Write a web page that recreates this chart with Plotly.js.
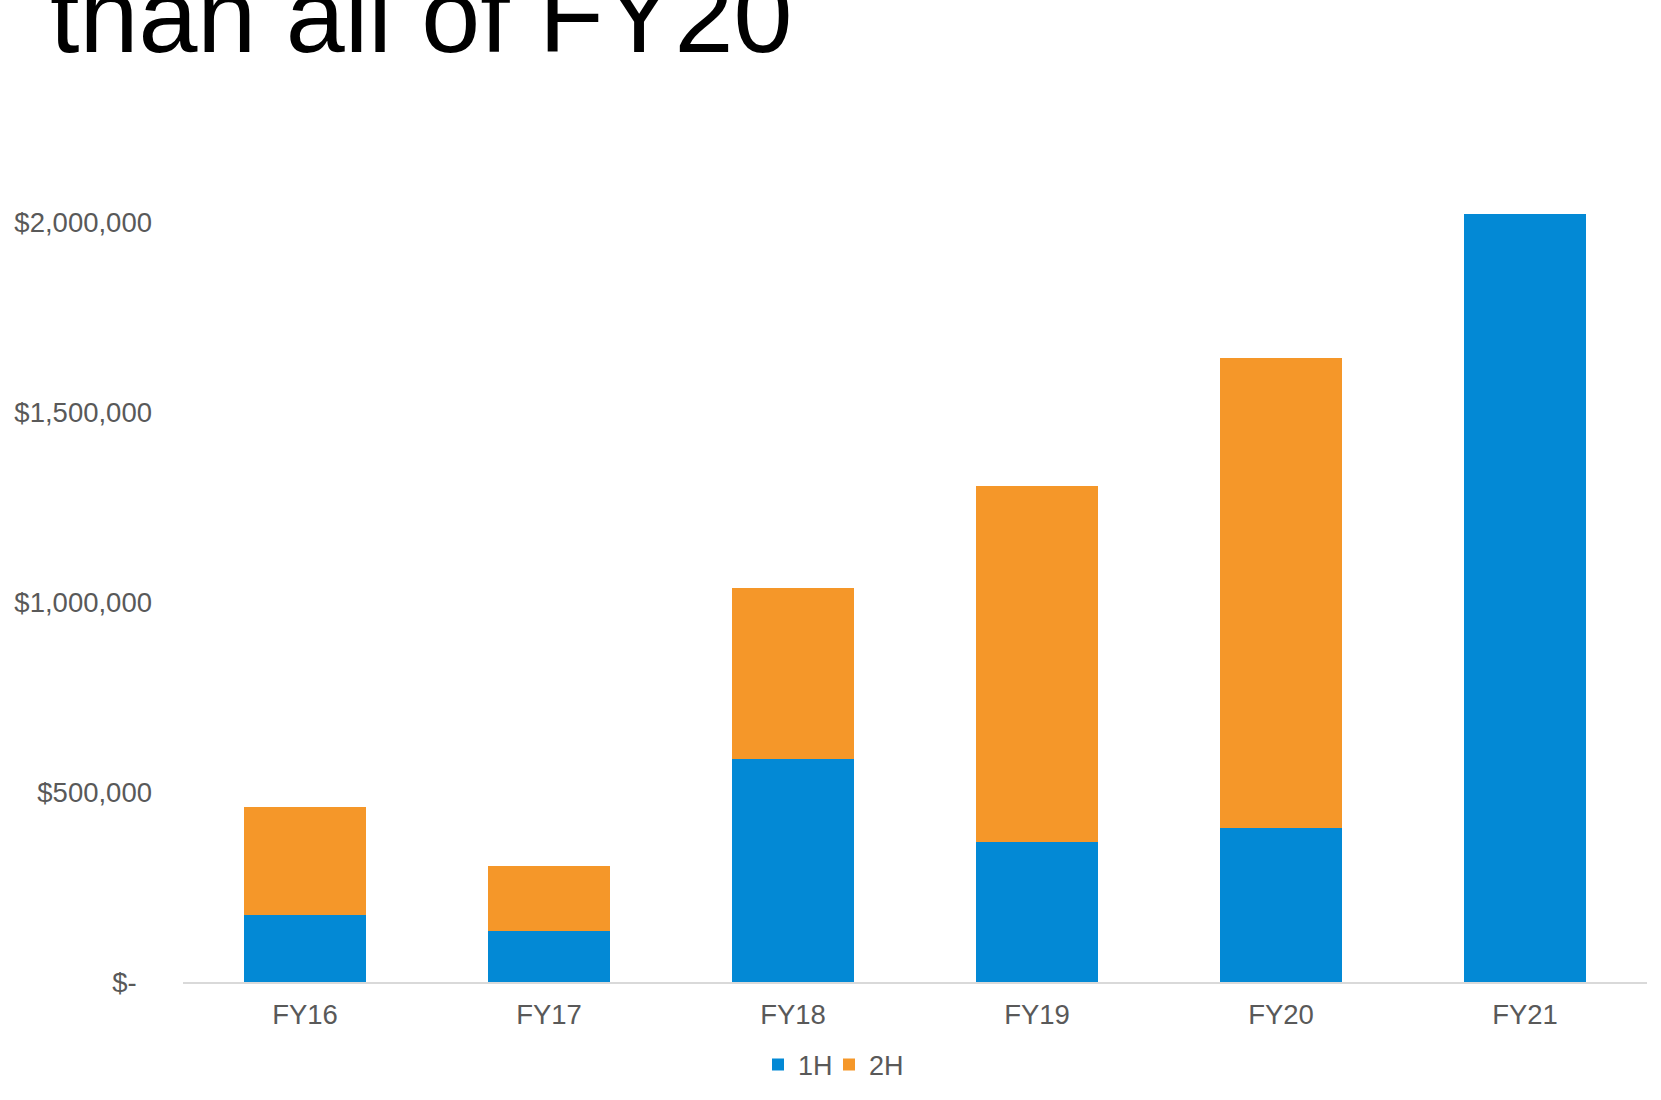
<!DOCTYPE html>
<html>
<head>
<meta charset="utf-8">
<script src="https://cdn.plot.ly/plotly-3.0.1.min.js"></script>
<style>html,body{margin:0;padding:0;background:#fff;}#chart{width:1661px;height:1100px;}</style>
</head>
<body>
<div id="chart"></div>
<script>
// Data
const categories = ['FY16', 'FY17', 'FY18', 'FY19', 'FY20', 'FY21'];
const firstHalf  = [177000, 134000, 588000, 369000, 406000, 2022000];
const secondHalf = [283000, 170000, 449000, 937000, 1236000, null];
const tickValues = [0, 500000, 1000000, 1500000, 2000000];
const tickLabels = ['$-\u00a0\u00a0', '$500,000', '$1,000,000', '$1,500,000', '$2,000,000'];
const seriesNames = ['1H', '2H'];
const titleText = 'than all of FY20';

const FONT = 'Liberation Sans, Arial, sans-serif';

const traces = [
  {type: 'bar', name: seriesNames[0], x: categories, y: firstHalf, legend: 'legend',
   marker: {color: '#0389D5', line: {width: 0}}, hoverinfo: 'x+y'},
  {type: 'bar', name: seriesNames[1], x: categories, y: secondHalf, legend: 'legend2',
   marker: {color: '#F59729', line: {width: 0}}, hoverinfo: 'x+y'}
];

const legendBase = {
  orientation: 'h', xref: 'container', yref: 'container',
  xanchor: 'left', y: 1 - 1065 / 1100, yanchor: 'middle',
  font: {family: FONT, size: 27, color: '#595959'},
  itemwidth: 30, bgcolor: 'rgba(0,0,0,0)', borderwidth: 0
};

const layout = {
  width: 1661, height: 1100,
  paper_bgcolor: '#ffffff', plot_bgcolor: '#ffffff',
  barmode: 'stack', bargap: 0.5,
  margin: {l: 183, r: 14, t: 146, b: 118, autoexpand: false},
  font: {family: FONT, color: '#595959', size: 27},
  title: {
    text: titleText,
    font: {family: FONT, size: 106, color: '#000000'},
    xref: 'container', x: 50 / 1661, xanchor: 'left',
    yref: 'container', y: 1 - 52 / 1100, yanchor: 'bottom',
    automargin: false, pad: {t: 0, b: 0, l: 0, r: 0}
  },
  xaxis: {
    type: 'category', range: [-0.5, 5.5],
    showline: true, linecolor: '#d9d9d9', linewidth: 2,
    showgrid: false, zeroline: false, ticks: '',
    tickfont: {family: FONT, size: 27.5, color: '#595959'},
    ticklabelstandoff: 7, fixedrange: true
  },
  yaxis: {
    range: [0, 2200000],
    showline: false, showgrid: false, zeroline: false, ticks: '',
    tickvals: tickValues, ticktext: tickLabels,
    tickfont: {family: FONT, size: 27.5, color: '#595959'},
    ticklabelstandoff: 30, fixedrange: true
  },
  showlegend: true,
  legend: Object.assign({}, legendBase, {x: 758 / 1661}),
  legend2: Object.assign({}, legendBase, {x: 829 / 1661})
};

Plotly.newPlot('chart', traces, layout, {displayModeBar: false, staticPlot: true});
</script>
</body>
</html>
